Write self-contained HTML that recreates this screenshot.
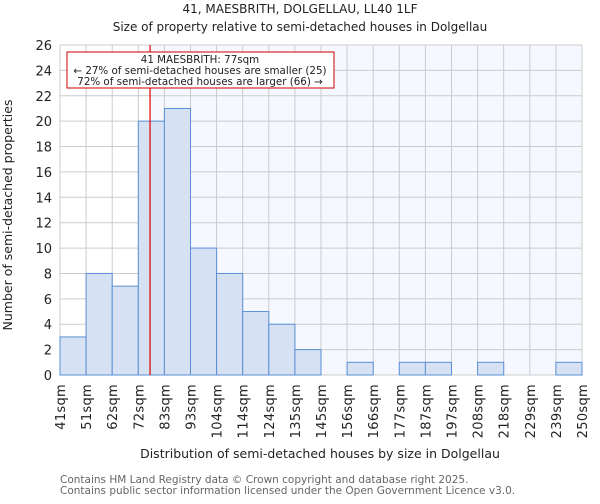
<!DOCTYPE html>
<html><head><meta charset="utf-8"><style>
body{margin:0;background:#fff;font-family:"DejaVu Sans","Liberation Sans",sans-serif}
</style></head><body>
<svg width="600" height="500" xmlns="http://www.w3.org/2000/svg" font-family="DejaVu Sans, Liberation Sans, sans-serif">
<text x="300" y="13" text-anchor="middle" font-size="12" fill="#222">41, MAESBRITH, DOLGELLAU, LL40 1LF</text>
<text x="300" y="31" text-anchor="middle" font-size="12" fill="#222">Size of property relative to semi-detached houses in Dolgellau</text>
<g id="plot"></g>
<text x="320" y="458" text-anchor="middle" font-size="12.5" fill="#222">Distribution of semi-detached houses by size in Dolgellau</text>
<text x="12" y="215" text-anchor="middle" font-size="12.5" fill="#222" transform="rotate(-90 12 215)">Number of semi-detached properties</text>
<text x="60" y="483" font-size="10.5" fill="#666">Contains HM Land Registry data © Crown copyright and database right 2025.</text>
<text x="60" y="494" font-size="10.5" fill="#666">Contains public sector information licensed under the Open Government Licence v3.0.</text>
</svg>
<script>
const binLabels=["41sqm","51sqm","62sqm","72sqm","83sqm","93sqm","104sqm","114sqm","124sqm","135sqm","145sqm","156sqm","166sqm","177sqm","187sqm","197sqm","208sqm","218sqm","229sqm","239sqm","250sqm"];
const counts=[3,8,7,20,21,10,8,5,4,2,0,1,0,1,1,0,1,0,0,1];
const yTicks=[0,2,4,6,8,10,12,14,16,18,20,22,24,26];
const markerBinPos=3.45;
const L=60,R=582,T=45,B=375,yMax=26;
const n=counts.length,bw=(R-L)/n;
const xs=i=>L+i*bw, ys=v=>B-(v/yMax)*(B-T);
const NS="http://www.w3.org/2000/svg",g=document.getElementById('plot');
function mk(t,a){const e=document.createElementNS(NS,t);for(const k in a)e.setAttribute(k,a[k]);g.appendChild(e);return e;}
const mx=xs(markerBinPos);
let e=mk('rect',{x:mx,y:T,width:R-mx,height:B-T,fill:'#f5f8fe'});


yTicks.forEach(v=>{const l=mk('line',{x1:L,x2:R,y1:ys(v),y2:ys(v),stroke:'#ccc','stroke-width':1});


const t=mk('text',{x:L-8,y:ys(v)+5,'text-anchor':'end','font-size':13,fill:'#222'});t.textContent=v;

});
binLabels.forEach((s,i)=>{const l=mk('line',{x1:xs(i),x2:xs(i),y1:T,y2:B,stroke:'#ccc','stroke-width':1});


const x=xs(i)+5,y=B+9;const t=mk('text',{x:x,y:y,'text-anchor':'end','font-size':13,'letter-spacing':'0.3',fill:'#222',transform:`rotate(-90 ${x} ${y})`});t.textContent=s;

});
counts.forEach((v,i)=>{if(v<=0)return;const r=mk('rect',{x:xs(i),y:ys(v),width:bw,height:B-ys(v),fill:'#d6e1f3',stroke:'#5a8fd6','stroke-width':1});

});
e=mk('line',{x1:mx,x2:mx,y1:T,y2:B,stroke:'#d00','stroke-width':1.2});


e=mk('rect',{x:67,y:52,width:267,height:36,fill:'#fff',stroke:'#c00','stroke-width':1});


[["41 MAESBRITH: 77sqm",63],["← 27% of semi-detached houses are smaller (25)",74],["72% of semi-detached houses are larger (66) →",85]].forEach(([s,y])=>{const t=mk('text',{x:200,y:y,'text-anchor':'middle','font-size':10.3,fill:'#222'});t.textContent=s;

});
</script>
</body></html>
